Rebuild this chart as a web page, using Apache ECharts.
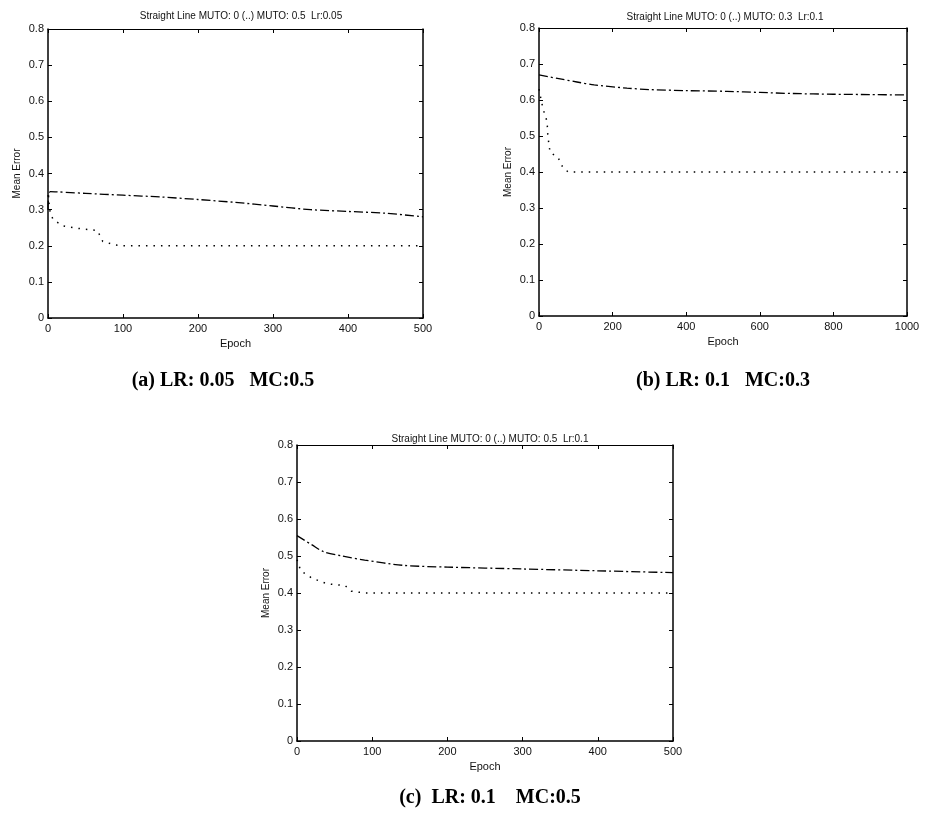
<!DOCTYPE html>
<html>
<head>
<meta charset="utf-8">
<script src="https://cdn.jsdelivr.net/npm/echarts@6/dist/echarts.min.js"></script>
<style>
  html, body { margin: 0; padding: 0; background: #fff; }
  #main { width: 928px; height: 816px; }
</style>
</head>
<body>
<div id="main"></div>
<script>
// (a) LR 0.05, MC 0.5
const aLineEpoch = [0, 3, 50, 100, 150, 200, 250, 300, 350, 400, 450, 500];
const aLineErr   = [0.30, 0.35, 0.345, 0.34, 0.335, 0.328, 0.32, 0.31, 0.30, 0.295, 0.29, 0.28];
const aDotEpoch  = [0, 3, 7, 20, 40, 66, 73, 90, 100, 200, 300, 400, 500];
const aDotErr    = [0.34, 0.29, 0.272, 0.255, 0.248, 0.242, 0.212, 0.202, 0.2, 0.2, 0.2, 0.2, 0.2];

// (b) LR 0.1, MC 0.3
const bLineEpoch = [0, 50, 103, 150, 239, 300, 400, 511, 600, 690, 800, 900, 1000];
const bLineErr   = [0.67, 0.66, 0.65, 0.642, 0.633, 0.629, 0.626, 0.624, 0.621, 0.618, 0.616, 0.615, 0.614];
const bDotEpoch  = [0, 11, 22, 24, 30, 52, 66, 80, 100, 200, 400, 600, 800, 1000];
const bDotErr    = [0.63, 0.575, 0.54, 0.5, 0.455, 0.44, 0.41, 0.40, 0.40, 0.40, 0.40, 0.40, 0.40, 0.40];

// (c) LR 0.1, MC 0.5
const cLineEpoch = [0, 20, 35, 60, 90, 140, 200, 300, 400, 500];
const cLineErr   = [0.555, 0.53, 0.512, 0.50, 0.489, 0.475, 0.47, 0.465, 0.46, 0.455];
const cDotEpoch  = [0, 5, 20, 40, 64, 72, 90, 100, 200, 300, 400, 500];
const cDotErr    = [0.49, 0.46, 0.44, 0.425, 0.42, 0.405, 0.40, 0.40, 0.40, 0.40, 0.40, 0.40];

const plotTitles = [
  'Straight Line MUTO: 0 (..) MUTO: 0.5  Lr:0.05',
  'Straight Line MUTO: 0 (..) MUTO: 0.3  Lr:0.1',
  'Straight Line MUTO: 0 (..) MUTO: 0.5  Lr:0.1'
];
const captions = ['(a) LR: 0.05   MC:0.5', '(b) LR: 0.1   MC:0.3', '(c)  LR: 0.1    MC:0.5'];
const xMax = [500, 1000, 500];
const xStep = [100, 200, 100];

const zip = (xs, ys) => xs.map((x, i) => [x, ys[i]]);

const grids = [
  { left: 48, top: 29, width: 375, height: 289 },
  { left: 539, top: 28, width: 368, height: 288 },
  { left: 297, top: 445, width: 376, height: 296 }
];
const titlePos = [[236, 6], [720, 7], [485, 429]];
const capPos = [[218, 366], [718, 366], [485, 783]];

const sans = 'Liberation Sans, Arial, sans-serif';
const serif = 'Liberation Serif, Times New Roman, serif';
const tick = { inside: true, length: 4, lineStyle: { color: '#000' } };

let xAxes = [], yAxes = [], titles = [], series = [];
grids.forEach((g, i) => {
  xAxes.push({
    gridIndex: i, type: 'value', min: 0, max: xMax[i], interval: xStep[i],
    name: 'Epoch', nameLocation: 'middle', nameGap: 20,
    nameTextStyle: { fontFamily: sans, fontSize: 11, color: '#111' },
    axisLine: { onZero: false, lineStyle: { color: '#000', width: 1.5 } },
    axisTick: tick,
    axisLabel: { fontFamily: sans, fontSize: 11, color: '#111', margin: 5, formatter: v => String(v) },
    splitLine: { show: false }
  });
  xAxes.push({
    gridIndex: i, type: 'value', position: 'top', min: 0, max: xMax[i], interval: xStep[i],
    axisLine: { show: true, onZero: false, lineStyle: { color: '#000', width: 1 } },
    axisTick: tick,
    axisLabel: { show: false }, splitLine: { show: false }
  });
  yAxes.push({
    gridIndex: i, type: 'value', min: 0, max: 0.8, interval: 0.1,
    name: 'Mean Error', nameLocation: 'middle', nameGap: 26,
    nameTextStyle: { fontFamily: sans, fontSize: 10, color: '#111' },
    axisLine: { show: true, onZero: false, lineStyle: { color: '#000', width: 1.5 } },
    axisTick: tick,
    axisLabel: { fontFamily: sans, fontSize: 11, color: '#111', margin: 4,
      formatter: v => v === 0 ? '0' : v.toFixed(1) },
    splitLine: { show: false }
  });
  yAxes.push({
    gridIndex: i, type: 'value', position: 'right', min: 0, max: 0.8, interval: 0.1,
    axisLine: { show: true, onZero: false, lineStyle: { color: '#000', width: 1.5 } },
    axisTick: tick,
    axisLabel: { show: false }, splitLine: { show: false }
  });
  titles.push({
    text: plotTitles[i], left: titlePos[i][0], top: titlePos[i][1], textAlign: 'center',
    textStyle: { fontFamily: sans, fontSize: 10, fontWeight: 'normal', color: '#111' }
  });
  titles.push({
    text: captions[i], left: capPos[i][0], top: capPos[i][1], textAlign: 'center',
    textStyle: { fontFamily: serif, fontSize: 20, fontWeight: 'bold', color: '#000' }
  });
});

const lineData = [zip(aLineEpoch, aLineErr), zip(bLineEpoch, bLineErr), zip(cLineEpoch, cLineErr)];
const dotData = [zip(aDotEpoch, aDotErr), zip(bDotEpoch, bDotErr), zip(cDotEpoch, cDotErr)];
for (let i = 0; i < 3; i++) {
  series.push({
    name: 'MUTO 0', type: 'line', xAxisIndex: i * 2, yAxisIndex: i * 2,
    data: lineData[i], showSymbol: false, smooth: 0.3,
    lineStyle: { color: '#000', width: 1.3, type: [9, 3, 2, 3] }
  });
  series.push({
    name: 'MUTO', type: 'line', xAxisIndex: i * 2, yAxisIndex: i * 2,
    data: dotData[i], showSymbol: false,
    lineStyle: { color: '#000', width: 1.5, type: [1.5, 6] }
  });
}

let instance = echarts.init(document.getElementById('main'));
instance.setOption({
  animation: false,
  title: titles,
  grid: grids,
  xAxis: xAxes,
  yAxis: yAxes,
  series: series
});
</script>
</body>
</html>
